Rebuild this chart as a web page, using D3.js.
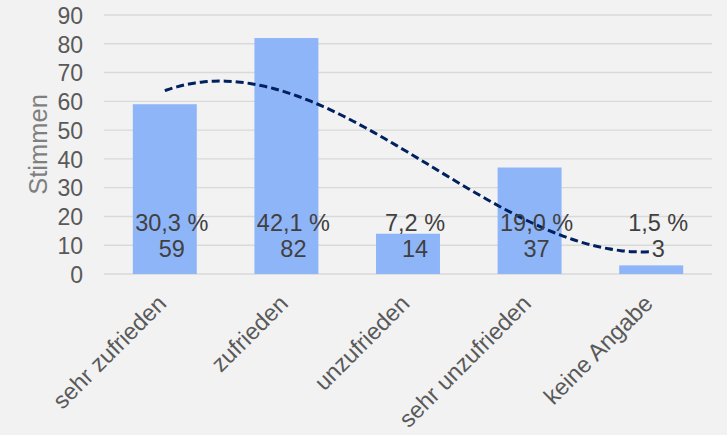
<!DOCTYPE html>
<html>
<head>
<meta charset="utf-8">
<script src="https://cdn.jsdelivr.net/npm/d3@7"></script>
<style>
  html, body { margin: 0; padding: 0; background: #f2f2f2; }
  svg { display: block; font-family: "Liberation Sans", Arial, sans-serif; }
</style>
</head>
<body>
<div id="chart"></div>
<script>
'use strict';

const categories = ['sehr zufrieden', 'zufrieden', 'unzufrieden', 'sehr unzufrieden', 'keine Angabe'];
const votes = [59, 82, 14, 37, 3];
const percentLabels = ['30,3 %', '42,1 %', '7,2 %', '19,0 %', '1,5 %'];
const yTicks = [0, 10, 20, 30, 40, 50, 60, 70, 80, 90];

const width = 727, height = 435;
const margin = { top: 15, right: 15, bottom: 161, left: 104 };

const svg = d3.select('#chart').append('svg')
  .attr('width', width)
  .attr('height', height);

svg.append('rect')
  .attr('width', width).attr('height', height)
  .attr('fill', '#f2f2f2');

const x = d3.scaleBand()
  .domain(categories)
  .range([margin.left, width - margin.right]);

const y = d3.scaleLinear()
  .domain([0, 90])
  .range([height - margin.bottom, margin.top]);

const barW = x.bandwidth() * 0.526;
const cx = (d) => x(d) + x.bandwidth() / 2;

// gridlines
svg.append('g')
  .selectAll('line')
  .data(yTicks)
  .enter().append('line')
    .attr('x1', margin.left)
    .attr('x2', width - margin.right)
    .attr('y1', (d) => y(d))
    .attr('y2', (d) => y(d))
    .attr('stroke', '#d9d9d9')
    .attr('stroke-width', 1.4);

// y axis labels
const yAxis = d3.axisLeft(y).tickValues(yTicks).tickSize(0).tickPadding(0);
const gy = svg.append('g')
  .attr('transform', `translate(${margin.left - 21},0)`)
  .call(yAxis);
gy.select('.domain').remove();
gy.selectAll('text')
  .attr('fill', '#595959')
  .attr('font-size', 23)
  .attr('font-family', '"Liberation Sans", Arial, sans-serif')
  .attr('dy', '0.36em');

svg.append('text')
  .attr('transform', `translate(47,${(margin.top + height - margin.bottom) / 2}) rotate(-90)`)
  .attr('text-anchor', 'middle')
  .attr('fill', '#7f7f7f')
  .attr('font-size', 25.5)
  .text('Stimmen');

// bars
svg.append('g')
  .selectAll('rect')
  .data(votes)
  .enter().append('rect')
    .attr('x', (d, i) => cx(categories[i]) - barW / 2)
    .attr('y', (d) => y(d))
    .attr('width', barW)
    .attr('height', (d) => y(0) - y(d))
    .attr('fill', '#8fb5f9');

// x labels, rotated
svg.append('g')
  .selectAll('text')
  .data(categories)
  .enter().append('text')
    .attr('transform', (d) => `translate(${cx(d) + 3},${y(0) + 31}) rotate(-45)`)
    .attr('text-anchor', 'end')
    .attr('fill', '#595959')
    .attr('font-size', 23.5)
    .text((d) => d);

// polynomial trendline (order 3, least squares)
function polyFit(xs, ys, order) {
  const n = order + 1;
  const A = [];
  for (let r = 0; r < n; r++) {
    A.push([]);
    for (let c = 0; c < n; c++) {
      A[r].push(d3.sum(xs, (v) => Math.pow(v, r + c)));
    }
    A[r].push(d3.sum(xs, (v, i) => Math.pow(v, r) * ys[i]));
  }
  for (let p = 0; p < n; p++) {
    for (let r = p + 1; r < n; r++) {
      const f = A[r][p] / A[p][p];
      for (let c = p; c <= n; c++) A[r][c] -= f * A[p][c];
    }
  }
  const coef = new Array(n).fill(0);
  for (let r = n - 1; r >= 0; r--) {
    let s = A[r][n];
    for (let c = r + 1; c < n; c++) s -= A[r][c] * coef[c];
    coef[r] = s / A[r][r];
  }
  return (t) => coef.reduce((acc, k, i) => acc + k * Math.pow(t, i), 0);
}

const idx = votes.map((d, i) => i + 1);
const trend = polyFit(idx, votes, 3);
const xPos = d3.scaleLinear().domain([1, 5]).range([cx(categories[0]), cx(categories[4])]);
const trendPts = d3.range(1, 5.001, 0.05).map((t) => [xPos(t), y(trend(t))]);

svg.append('path')
  .datum(trendPts)
  .attr('d', d3.line().curve(d3.curveBasis))
  .attr('fill', 'none')
  .attr('stroke', '#002060')
  .attr('stroke-width', 3)
  .attr('stroke-dasharray', '8,4');

// data labels
const labels = svg.append('g')
  .selectAll('text')
  .data(votes)
  .enter().append('text')
    .attr('text-anchor', 'middle')
    .attr('fill', '#404040')
    .attr('font-size', 23.5);

labels.append('tspan')
  .attr('x', (d, i) => cx(categories[i]) + 7)
  .attr('y', y(0) - 43)
  .text((d, i) => percentLabels[i]);

labels.append('tspan')
  .attr('x', (d, i) => cx(categories[i]) + 7)
  .attr('y', y(0) - 17)
  .text((d) => d);
</script>
</body>
</html>
